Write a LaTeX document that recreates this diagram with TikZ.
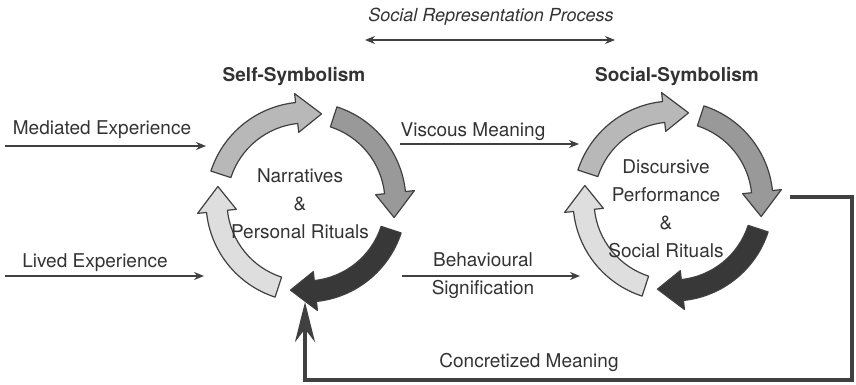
\documentclass[tikz,border=0pt]{standalone}
\usepackage{fontspec}
\setmainfont{TeX Gyre Heros}
\usetikzlibrary{arrows.meta}

\definecolor{encre}{gray}{0.2}
\definecolor{trait}{gray}{0.25}
\definecolor{grisA}{gray}{0.72}
\definecolor{grisB}{gray}{0.60}
\definecolor{grisC}{gray}{0.22}
\definecolor{grisD}{gray}{0.87}

\begin{document}
\begin{tikzpicture}[x=1pt,y=1pt]
		\tikzstyle{fleche}=[->,>={Stealth[length=10pt,width=8pt]},line width=1.4pt,draw=trait]
		\tikzstyle{texte}=[text=encre,font=\fontsize{19}{22}\selectfont,inner sep=0pt]
		\tikzstyle{titre}=[texte,font=\bfseries\fontsize{19}{22}\selectfont]
		\tikzstyle{centre}=[texte,align=center,font=\fontsize{19}{28}\selectfont]
		\tikzstyle{segment}=[draw=trait,line width=1.2pt,line join=round]
		\tikzstyle{retour}=[->,>={Stealth[length=40pt,width=20pt]},line width=4pt,draw=trait]
		
		\useasboundingbox (0,0) rectangle (856,384);
		
		% rayons des boucles
		\def\RayonExt{100pt}
		\def\RayonInt{79pt}
		\def\RayonMoyen{89.5pt}
		\def\RayonTeteExt{109pt}
		\def\RayonTeteInt{70pt}
		\def\Corps{66}
		\def\Total{82}
		
		% un segment courbe : #1 angle de depart, #2 couleur
		\def\Segment#1#2{%
			\pgfmathsetmacro\Fin{#1-\Corps}
			\pgfmathsetmacro\Pointe{#1-\Total}
			\filldraw[segment,fill=#2] (#1:\RayonExt) arc[start angle=#1,end angle=\Fin,radius=\RayonExt]
				-- (\Fin:\RayonTeteExt) -- (\Pointe:\RayonMoyen) -- (\Fin:\RayonTeteInt)
				-- (\Fin:\RayonInt) arc[start angle=\Fin,end angle=#1,radius=\RayonInt] -- cycle;}
		
		% boucle de gauche
		\begin{scope}[shift={(306,182)}]
			\Segment{162}{grisA}
			\Segment{72}{grisB}
			\Segment{-18}{grisC}
			\Segment{-108}{grisD}
		\end{scope}
		% boucle de droite
		\begin{scope}[shift={(673,183)}]
			\Segment{162}{grisA}
			\Segment{72}{grisB}
			\Segment{-18}{grisC}
			\Segment{-108}{grisD}
		\end{scope}
		
		\node[texte,font=\itshape\fontsize{18}{22}\selectfont] (processus) at (491,367) {Social Representation Process};
		\coordinate (procG) at (365,344);
		\coordinate (procD) at (615,344);
		\draw[fleche,<->] (procG)--(procD);
		
		\node[titre] (self) at (294,307) {Self-Symbolism};
		\node[titre] (social) at (677,307) {Social-Symbolism};
		
		\node[centre] (recit) at (300,180) {Narratives\\\&\\Personal Rituals};
		\node[centre] (discours) at (666,175) {Discursive\\Performance\\\&\\Social Rituals};
		
		% entrees
		\coordinate (mediaA) at (5,238);
		\coordinate (mediaB) at (206,238);
		\coordinate (vecuA) at (5,108);
		\coordinate (vecuB) at (204,108);
		\node[texte] (media) at (102,254) {Mediated Experience};
		\node[texte] (vecu) at (95,121) {Lived Experience};
		\draw[fleche] (mediaA)--(mediaB);
		\draw[fleche] (vecuA)--(vecuB);
		
		% liens entre les boucles
		\coordinate (visqA) at (400,240);
		\coordinate (visqB) at (579,240);
		\coordinate (comportA) at (402,108);
		\coordinate (comportB) at (580,108);
		\node[texte] (visqueux) at (473,252) {Viscous Meaning};
		\node[centre] (comport) at (483,108) {Behavioural\\Signification};
		\draw[fleche] (visqA)--(visqB);
		\draw[fleche] (comportA)--(comportB);
		
		% retour
		\coordinate (sortie) at (790,187);
		\coordinate (coin) at (852,4);
		\coordinate (entree) at (305,82);
		\node[texte] (concret) at (529,22) {Concretized Meaning};
		\draw[retour] (sortie) -| (coin) -| (entree);
		\end{tikzpicture}
\end{document}
